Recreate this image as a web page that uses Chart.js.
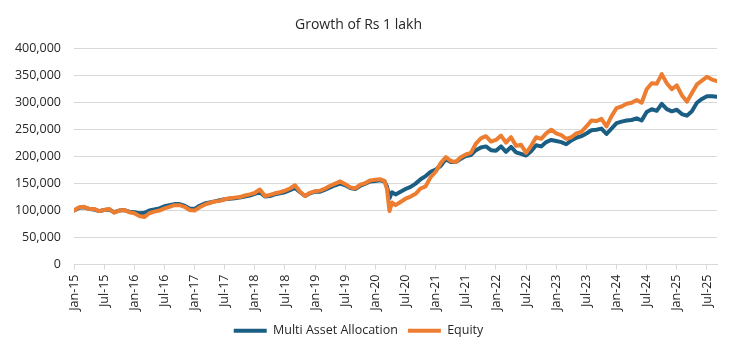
<!DOCTYPE html>
<html>
<head>
<meta charset="utf-8">
<script src="https://cdn.jsdelivr.net/npm/chart.js@4"></script>
<style>
  html, body { margin: 0; padding: 0; background: #ffffff; }
  #wrap { width: 730px; height: 356px; }
</style>
</head>
<body>
<div id="wrap"><canvas id="c" width="730" height="356"></canvas></div>
<script>
// Tick labels on the x axis (every 6 months starting Jan-2015)
const tickLabels = ['Jan-15','Jul-15','Jan-16','Jul-16','Jan-17','Jul-17','Jan-18','Jul-18','Jan-19','Jul-19','Jan-20','Jul-20','Jan-21','Jul-21','Jan-22','Jul-22','Jan-23','Jul-23','Jan-24','Jul-24','Jan-25','Jul-25'];

// Time position of each observation, in months since Jan-2015
const monthOffsets = [
  0,1,2,3,4,5,6,7,8,9,10,11,12,13,14,15,16,17,18,19,20,21,22,23,24,25,26,27,28,29,
  30,31,32,33,34,35,36,37,38,39,40,41,42,43,44,45,46,47,48,49,50,51,52,53,54,55,56,57,58,59,
  60,61,61.8,62.3,62.8,63.3,64,65,66,67,68,69,70,71,72,73,74,75,76,77,78,79,
  80,81,82,83,84,85,86,87,88,89,90,91,92,93,94,95,96,97,98,99,
  100,101,102,103,104,105,106,107,108,109,110,111,112,113,114,115,116,117,118,119,
  120,121,122,123,124,125,126,127,128
];

// Value of Rs 1 lakh invested (Rs)
const multiAsset = [
  100000,105000,106000,103000,102000,99000,101000,102000,97000,100000,101000,98000,97000,95000,96000,100000,102000,104000,108000,110000,112000,112000,109000,104000,103000,109000,113000,115000,117000,119000,
  121000,122000,123000,124000,126000,128000,131000,134000,126000,127000,130000,132000,134000,138000,142000,134000,127000,132000,135000,135000,139000,143000,147000,150000,147000,142000,140000,146000,150000,154000,
  155000,156000,154000,145000,123000,134000,130000,135000,140000,144000,150000,158000,164000,172000,176000,183000,195000,190000,190000,196000,201000,203000,
  212000,217000,219000,212000,211000,219000,209000,218000,208000,205000,202000,210000,221000,219000,227000,231000,229000,227000,223000,230000,
  235000,238000,243000,249000,250000,252000,242000,252000,262000,265000,267000,268000,271000,267000,283000,288000,285000,298000,288000,284000,
  287000,279000,276000,284000,300000,307000,312000,312000,311000
];

const equity = [
  100000,106000,107000,103000,103000,99000,101000,103000,96000,100000,101000,97000,95000,90000,88000,95000,98000,100000,104000,107000,110000,110000,107000,101000,100000,106000,111000,114000,117000,118000,
  121000,123000,124000,125000,128000,130000,133000,139000,127000,129000,132000,134000,137000,141000,147000,135000,127000,133000,136000,137000,141000,146000,150000,154000,149000,143000,141000,148000,151000,156000,
  157000,158000,155000,140000,99000,115000,110000,116000,122000,126000,131000,141000,145000,162000,172000,188000,199000,192000,190000,199000,204000,207000,
  224000,234000,238000,228000,231000,239000,226000,236000,220000,222000,207000,220000,236000,233000,243000,250000,243000,240000,233000,236000,
  243000,246000,256000,267000,266000,270000,256000,275000,290000,293000,298000,300000,305000,300000,325000,336000,335000,353000,336000,325000,
  332000,314000,302000,318000,334000,341000,348000,343000,340000
];

const seriesNames = ['Multi Asset Allocation', 'Equity'];
const seriesColors = ['#1B5E84', '#ED7D31'];

const toPoints = vals => vals.map((v, i) => ({ x: monthOffsets[i], y: v }));

const FONT = '"Open Sans", "Noto Sans", sans-serif';
const TEXT = '#262626';
const GRID = '#D9D9D9';

new Chart(document.getElementById('c'), {
  type: 'line',
  data: {
    datasets: [
      {
        label: seriesNames[0],
        data: toPoints(multiAsset),
        borderColor: seriesColors[0],
        backgroundColor: seriesColors[0],
        borderWidth: 4,
        pointRadius: 0,
        tension: 0,
        borderJoinStyle: 'round',
        borderCapStyle: 'round',
        order: 1
      },
      {
        label: seriesNames[1],
        data: toPoints(equity),
        borderColor: seriesColors[1],
        backgroundColor: seriesColors[1],
        borderWidth: 4,
        pointRadius: 0,
        tension: 0,
        borderJoinStyle: 'round',
        borderCapStyle: 'round',
        order: 0
      }
    ]
  },
  options: {
    responsive: false,
    animation: false,
    devicePixelRatio: 1,
    layout: { padding: { top: 16, left: 0, right: 13, bottom: 9 } },
    scales: {
      x: {
        type: 'linear',
        min: 0,
        max: 128,
        afterBuildTicks: s => { s.ticks = tickLabels.map((_, i) => ({ value: i * 6 })); },
        afterFit: s => { s.height = 50; },
        ticks: {
          autoSkip: false,
          minRotation: 90,
          maxRotation: 90,
          padding: 5,
          color: TEXT,
          font: { family: FONT, size: 12.5 },
          callback: v => tickLabels[Math.round(v / 6)]
        },
        grid: {
          drawOnChartArea: false,
          drawTicks: true,
          tickLength: 5,
          color: GRID,
          lineWidth: 1
        },
        border: { display: true, color: GRID, width: 1 }
      },
      y: {
        min: 0,
        max: 400000,
        afterFit: s => { s.width = 74; },
        ticks: {
          stepSize: 50000,
          padding: 13,
          color: TEXT,
          font: { family: FONT, size: 12.5 },
          callback: v => v.toLocaleString('en-US')
        },
        grid: { color: GRID, lineWidth: 1, drawTicks: false },
        border: { display: false }
      }
    },
    plugins: {
      title: {
        display: true,
        text: 'Growth of Rs 1 lakh',
        color: TEXT,
        font: { family: FONT, size: 14, weight: 'normal', lineHeight: 1.2 },
        padding: { top: 1, bottom: 15 }
      },
      legend: {
        display: true,
        position: 'bottom',
        labels: {
          usePointStyle: true,
          pointStyle: 'line',
          pointStyleWidth: 33,
          boxHeight: 12,
          padding: 10,
          color: TEXT,
          font: { family: FONT, size: 12.5 },
          sort: (a, b) => a.datasetIndex - b.datasetIndex
        }
      },
      tooltip: { enabled: false }
    }
  }
});
</script>
</body>
</html>
